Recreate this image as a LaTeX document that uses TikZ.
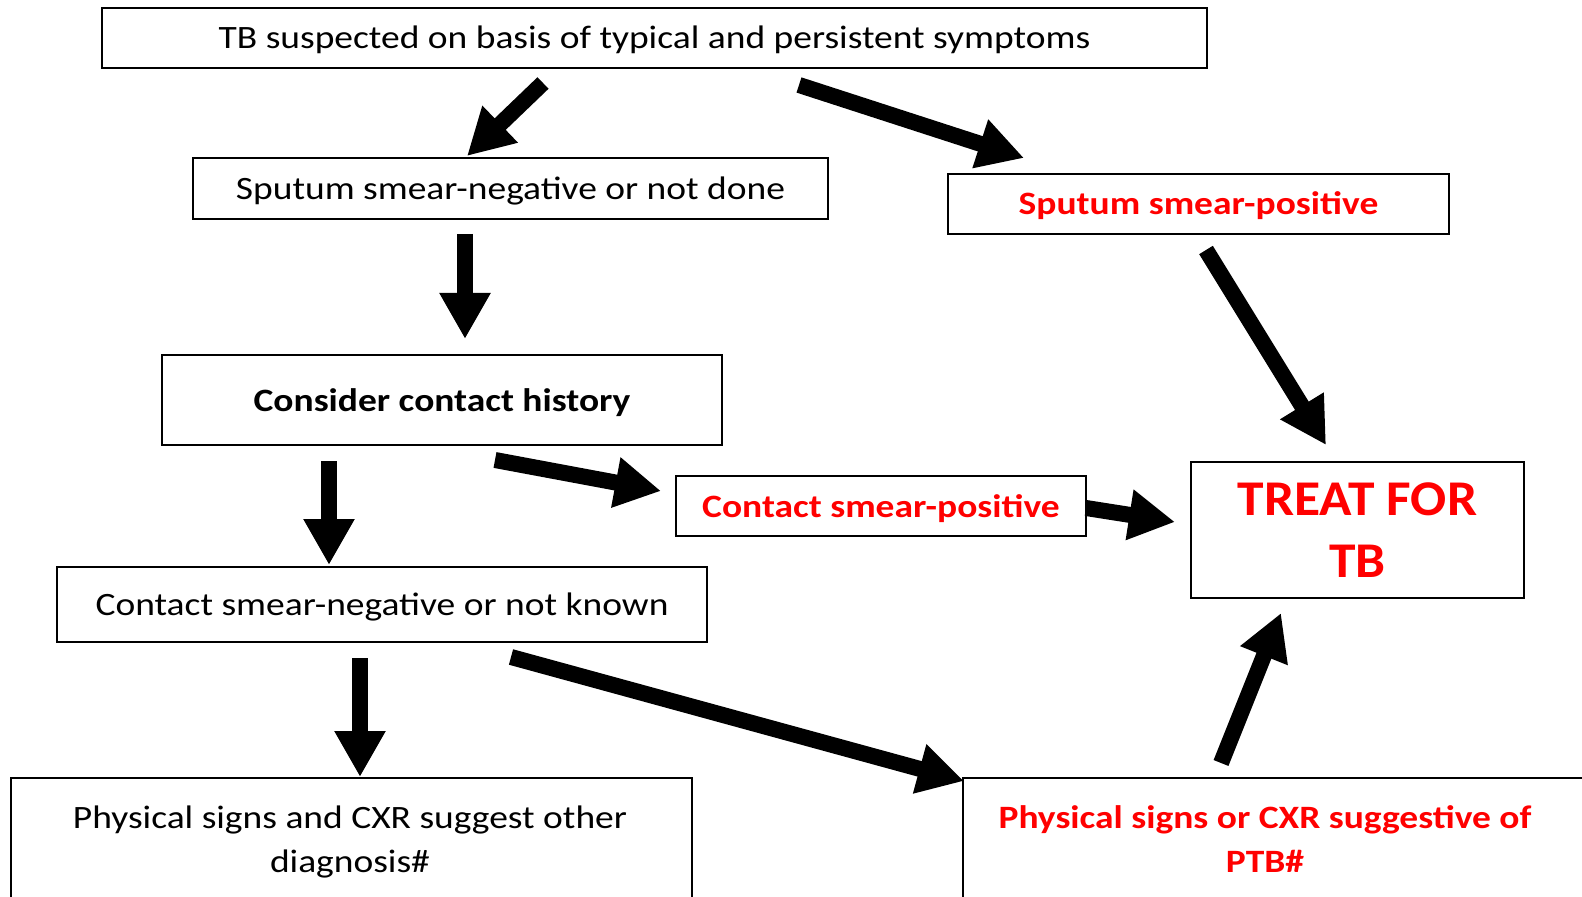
\documentclass[tikz,border=0pt]{standalone}
\usepackage{fontspec}
\setmainfont[FakeStretch=1.15]{Carlito}
\newfontfamily\treatfont[FakeStretch=1.07]{Carlito}
\usetikzlibrary{arrows.meta}
\definecolor{tbred}{RGB}{255,0,0}
\tikzset{
  box/.style={draw=black, line width=1pt, rectangle, outer sep=0pt, inner sep=0pt, align=center},
  oneline/.style={text height=14.4pt, text depth=3.4pt},
  normtxt/.style={font=\fontsize{16.3}{22}\selectfont},
  boldtxt/.style={font=\fontsize{16.3}{22}\selectfont\bfseries},
  redtxt/.style={font=\fontsize{16.3}{22}\selectfont\bfseries, text=tbred},
  bigarrow/.style={line width=8pt, -{Triangle[width=24pt,length=23pt]}},
}
\begin{document}
\begin{tikzpicture}[x=0.5pt,y=-0.5pt]
\useasboundingbox (0,0) rectangle (1582,897);
\begin{scope}
\clip (0,0) rectangle (1582,897);
% boxes
\node[box, oneline, normtxt, minimum width=552.5pt, minimum height=30pt] (top) at (654.5,38) {TB suspected on basis of typical and persistent symptoms};
\node[box, oneline, normtxt, minimum width=317.5pt, minimum height=30.5pt] (sneg) at (510.5,188.5) {Sputum smear-negative or not done};
\node[box, oneline, redtxt, minimum width=250.5pt, minimum height=30pt] (spos) at (1198.5,204) {Sputum smear-positive};
\node[box, oneline, boldtxt, minimum width=280pt, minimum height=45pt] (contact) at (442,400) {Consider contact history};
\node[box, oneline, redtxt, minimum width=205pt, minimum height=30pt] (cpos) at (881,506) {Contact smear-positive};
\node[box, minimum width=166.5pt, minimum height=68pt, font=\treatfont\fontsize{25}{31}\selectfont\bfseries, text=tbred] (treat) at (1357.5,530) {TREAT FOR\\TB};
\node[box, oneline, normtxt, minimum width=325pt, minimum height=37.5pt] (cneg) at (382,604.5) {Contact smear-negative or not known};
\node[box, minimum width=340.5pt, minimum height=80pt, anchor=north west] (other) at (11,778) {};
\node[normtxt, align=center] (othertxt) at (350,842) {Physical signs and CXR suggest other\\diagnosis\#};
\node[box, minimum width=340pt, minimum height=80pt, anchor=north west] (ptb) at (963,778) {};
\node[redtxt, align=center] (ptbtxt) at (1265,839) {Physical signs or CXR suggestive of\\PTB\#};
% arrow end points
\coordinate (a1s) at (543,83);   \coordinate (a1e) at (467,156);
\coordinate (a2s) at (799,85);   \coordinate (a2e) at (1024,158);
\coordinate (a3s) at (465,234);  \coordinate (a3e) at (465,339);
\coordinate (a4s) at (1206,250); \coordinate (a4e) at (1326,445);
\coordinate (a5s) at (495,460);  \coordinate (a5e) at (661,491);
\coordinate (a6s) at (329,461);  \coordinate (a6e) at (329,565);
\coordinate (a7s) at (1086,508); \coordinate (a7e) at (1175,522);
\coordinate (a8s) at (360,658);  \coordinate (a8e) at (360,777);
\coordinate (a9s) at (511,657);  \coordinate (a9e) at (964,781);
\coordinate (a10s) at (1221,763); \coordinate (a10e) at (1281,613);
\foreach \i in {1,...,10} {\draw[bigarrow] (a\i s) -- (a\i e);}
\end{scope}
\end{tikzpicture}
\end{document}
